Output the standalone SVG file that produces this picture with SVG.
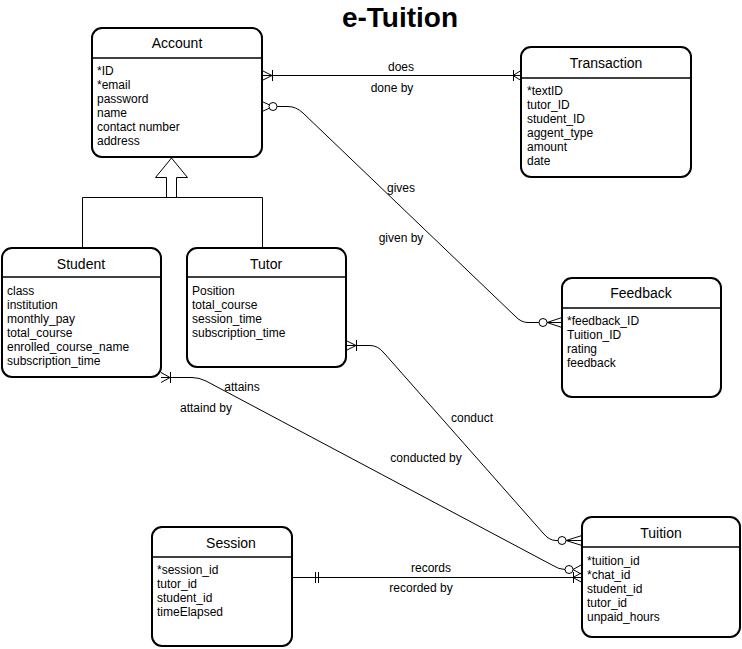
<svg xmlns="http://www.w3.org/2000/svg" width="742" height="649" viewBox="0 0 742 649">
<style>
.box{fill:#fff;stroke:#000;stroke-width:2}
.div{stroke:#000;stroke-width:1.5}
.ttl{font-family:"Liberation Sans",Arial,sans-serif;font-size:14px;text-anchor:middle;fill:#000}
.att{font-family:"Liberation Sans",Arial,sans-serif;font-size:12px;fill:#000}
.lbl{font-family:"Liberation Sans",Arial,sans-serif;font-size:12px;text-anchor:middle;fill:#000}
.ln{fill:none;stroke:#000;stroke-width:1}
.mk{fill:none;stroke:#000;stroke-width:1}
.circ{fill:#fff;stroke:#000;stroke-width:1}
</style>
<rect width="742" height="649" fill="#fff"/>
<text x="400" y="27" style="font-family:'Liberation Sans',Arial,sans-serif;font-size:28px;font-weight:bold" text-anchor="middle">e-Tuition</text>

<g id="connectors">
  <!-- Account - Transaction -->
  <path class="ln" d="M262 75.5 H521"/>
  <path class="mk" d="M262 70.5 L272 75.5 L262 80.5 M272.5 70 V81"/>
  <path class="mk" d="M521 70.5 L513 75.5 L521 80.5 M513.5 70 V81"/>
  <text class="lbl" x="401" y="71">does</text>
  <text class="lbl" x="392" y="92">done by</text>
  <!-- Account - Feedback -->
  <path class="ln" d="M277 106.5 H288 Q296 106.5 303 113 L515 316 Q521 322.5 528 322.5 H539"/>
  <path class="mk" d="M262 101.5 L273 106.5 L262 111.5"/>
  <circle class="circ" cx="273" cy="106.5" r="4"/>
  <path class="mk" d="M562 317.5 L547 322.5 L562 327.5 M547 322.5 H562"/>
  <circle class="circ" cx="543" cy="322.5" r="4"/>
  <text class="lbl" x="401" y="192">gives</text>
  <text class="lbl" x="401" y="242">given by</text>
  <!-- Tutor - Tuition -->
  <path class="ln" d="M346 345.5 H370 Q378 345.5 384 353 L543 533 Q549 540.5 556 540.5 H558"/>
  <path class="mk" d="M346 340.5 L356 345.5 L346 350.5 M356.5 340 V351"/>
  <circle class="circ" cx="562" cy="540.5" r="4"/>
  <path class="mk" d="M582 535.5 L566 540.5 L582 545.5 M566 540.5 H582"/>
  <text class="lbl" x="472" y="422">conduct</text>
  <text class="lbl" x="426" y="462">conducted by</text>
  <!-- Student - Tuition -->
  <path class="ln" d="M161 377.5 H192 Q199 377.5 206 381 L552 565 Q559 569.5 565 569.5"/>
  <path class="mk" d="M161 372.5 L170 377.5 L161 382.5 M170.5 372 V383"/>
  <circle class="circ" cx="569" cy="569.5" r="4"/>
  <path class="mk" d="M582 564.5 L573 569.5 L582 574.5"/>
  <text class="lbl" x="242" y="391">attains</text>
  <text class="lbl" x="206" y="412">attaind by</text>
  <!-- Session - Tuition -->
  <path class="ln" d="M292 577.5 H582"/>
  <path class="mk" d="M315.5 572 V583 M318.5 572 V583"/>
  <path class="mk" d="M582 572.5 L573 577.5 L582 582.5 M573.5 572 V583"/>
  <text class="lbl" x="431" y="572">records</text>
  <text class="lbl" x="421" y="592">recorded by</text>
  <!-- Inheritance -->
  <polygon points="171.5,158 187.5,177.5 176.5,177.5 176.5,197.5 166.5,197.5 166.5,177.5 155.5,177.5" fill="#fff" stroke="#000" stroke-width="1"/>
  <path class="ln" d="M82.5 247 V197.5 H262.5 V247"/>
</g>

<g id="account">
  <rect class="box" x="92" y="28" width="170" height="129" rx="10"/>
  <line class="div" x1="92" y1="58" x2="262" y2="58"/>
  <text class="ttl" x="177" y="48">Account</text>
  <text class="att" x="97" y="75">*ID</text>
  <text class="att" x="97" y="89">*email</text>
  <text class="att" x="97" y="103">password</text>
  <text class="att" x="97" y="117">name</text>
  <text class="att" x="97" y="131">contact number</text>
  <text class="att" x="97" y="145">address</text>
</g>

<g id="transaction">
  <rect class="box" x="521" y="47" width="170" height="130" rx="10"/>
  <line class="div" x1="521" y1="78" x2="691" y2="78"/>
  <text class="ttl" x="606" y="68">Transaction</text>
  <text class="att" x="527" y="95">*textID</text>
  <text class="att" x="527" y="109">tutor_ID</text>
  <text class="att" x="527" y="123">student_ID</text>
  <text class="att" x="527" y="137">aggent_type</text>
  <text class="att" x="527" y="151">amount</text>
  <text class="att" x="527" y="165">date</text>
</g>

<g id="student">
  <rect class="box" x="2" y="248" width="159" height="129" rx="10"/>
  <line class="div" x1="2" y1="277" x2="161" y2="277"/>
  <text class="ttl" x="81" y="269">Student</text>
  <text class="att" x="7" y="295">class</text>
  <text class="att" x="7" y="309">institution</text>
  <text class="att" x="7" y="323">monthly_pay</text>
  <text class="att" x="7" y="337">total_course</text>
  <text class="att" x="7" y="351">enrolled_course_name</text>
  <text class="att" x="7" y="365">subscription_time</text>
</g>

<g id="tutor">
  <rect class="box" x="187" y="248" width="159" height="119" rx="10"/>
  <line class="div" x1="187" y1="277" x2="346" y2="277"/>
  <text class="ttl" x="266" y="269">Tutor</text>
  <text class="att" x="192" y="295">Position</text>
  <text class="att" x="192" y="309">total_course</text>
  <text class="att" x="192" y="323">session_time</text>
  <text class="att" x="192" y="337">subscription_time</text>
</g>

<g id="feedback">
  <rect class="box" x="562" y="278" width="159" height="119" rx="10"/>
  <line class="div" x1="562" y1="308" x2="721" y2="308"/>
  <text class="ttl" x="641" y="298">Feedback</text>
  <text class="att" x="567" y="325">*feedback_ID</text>
  <text class="att" x="567" y="339">Tuition_ID</text>
  <text class="att" x="567" y="353">rating</text>
  <text class="att" x="567" y="367">feedback</text>
</g>

<g id="session">
  <rect class="box" x="152" y="527" width="140" height="119" rx="10"/>
  <line class="div" x1="152" y1="557" x2="292" y2="557"/>
  <text class="ttl" x="231" y="548">Session</text>
  <text class="att" x="157" y="574">*session_id</text>
  <text class="att" x="157" y="588">tutor_id</text>
  <text class="att" x="157" y="602">student_id</text>
  <text class="att" x="157" y="616">timeElapsed</text>
</g>

<g id="tuition">
  <rect class="box" x="582" y="517" width="158" height="120" rx="10"/>
  <line class="div" x1="582" y1="547" x2="740" y2="547"/>
  <text class="ttl" x="661" y="538">Tuition</text>
  <text class="att" x="587" y="565">*tuition_id</text>
  <text class="att" x="587" y="579">*chat_id</text>
  <text class="att" x="587" y="593">student_id</text>
  <text class="att" x="587" y="607">tutor_id</text>
  <text class="att" x="587" y="621">unpaid_hours</text>
</g>
</svg>
